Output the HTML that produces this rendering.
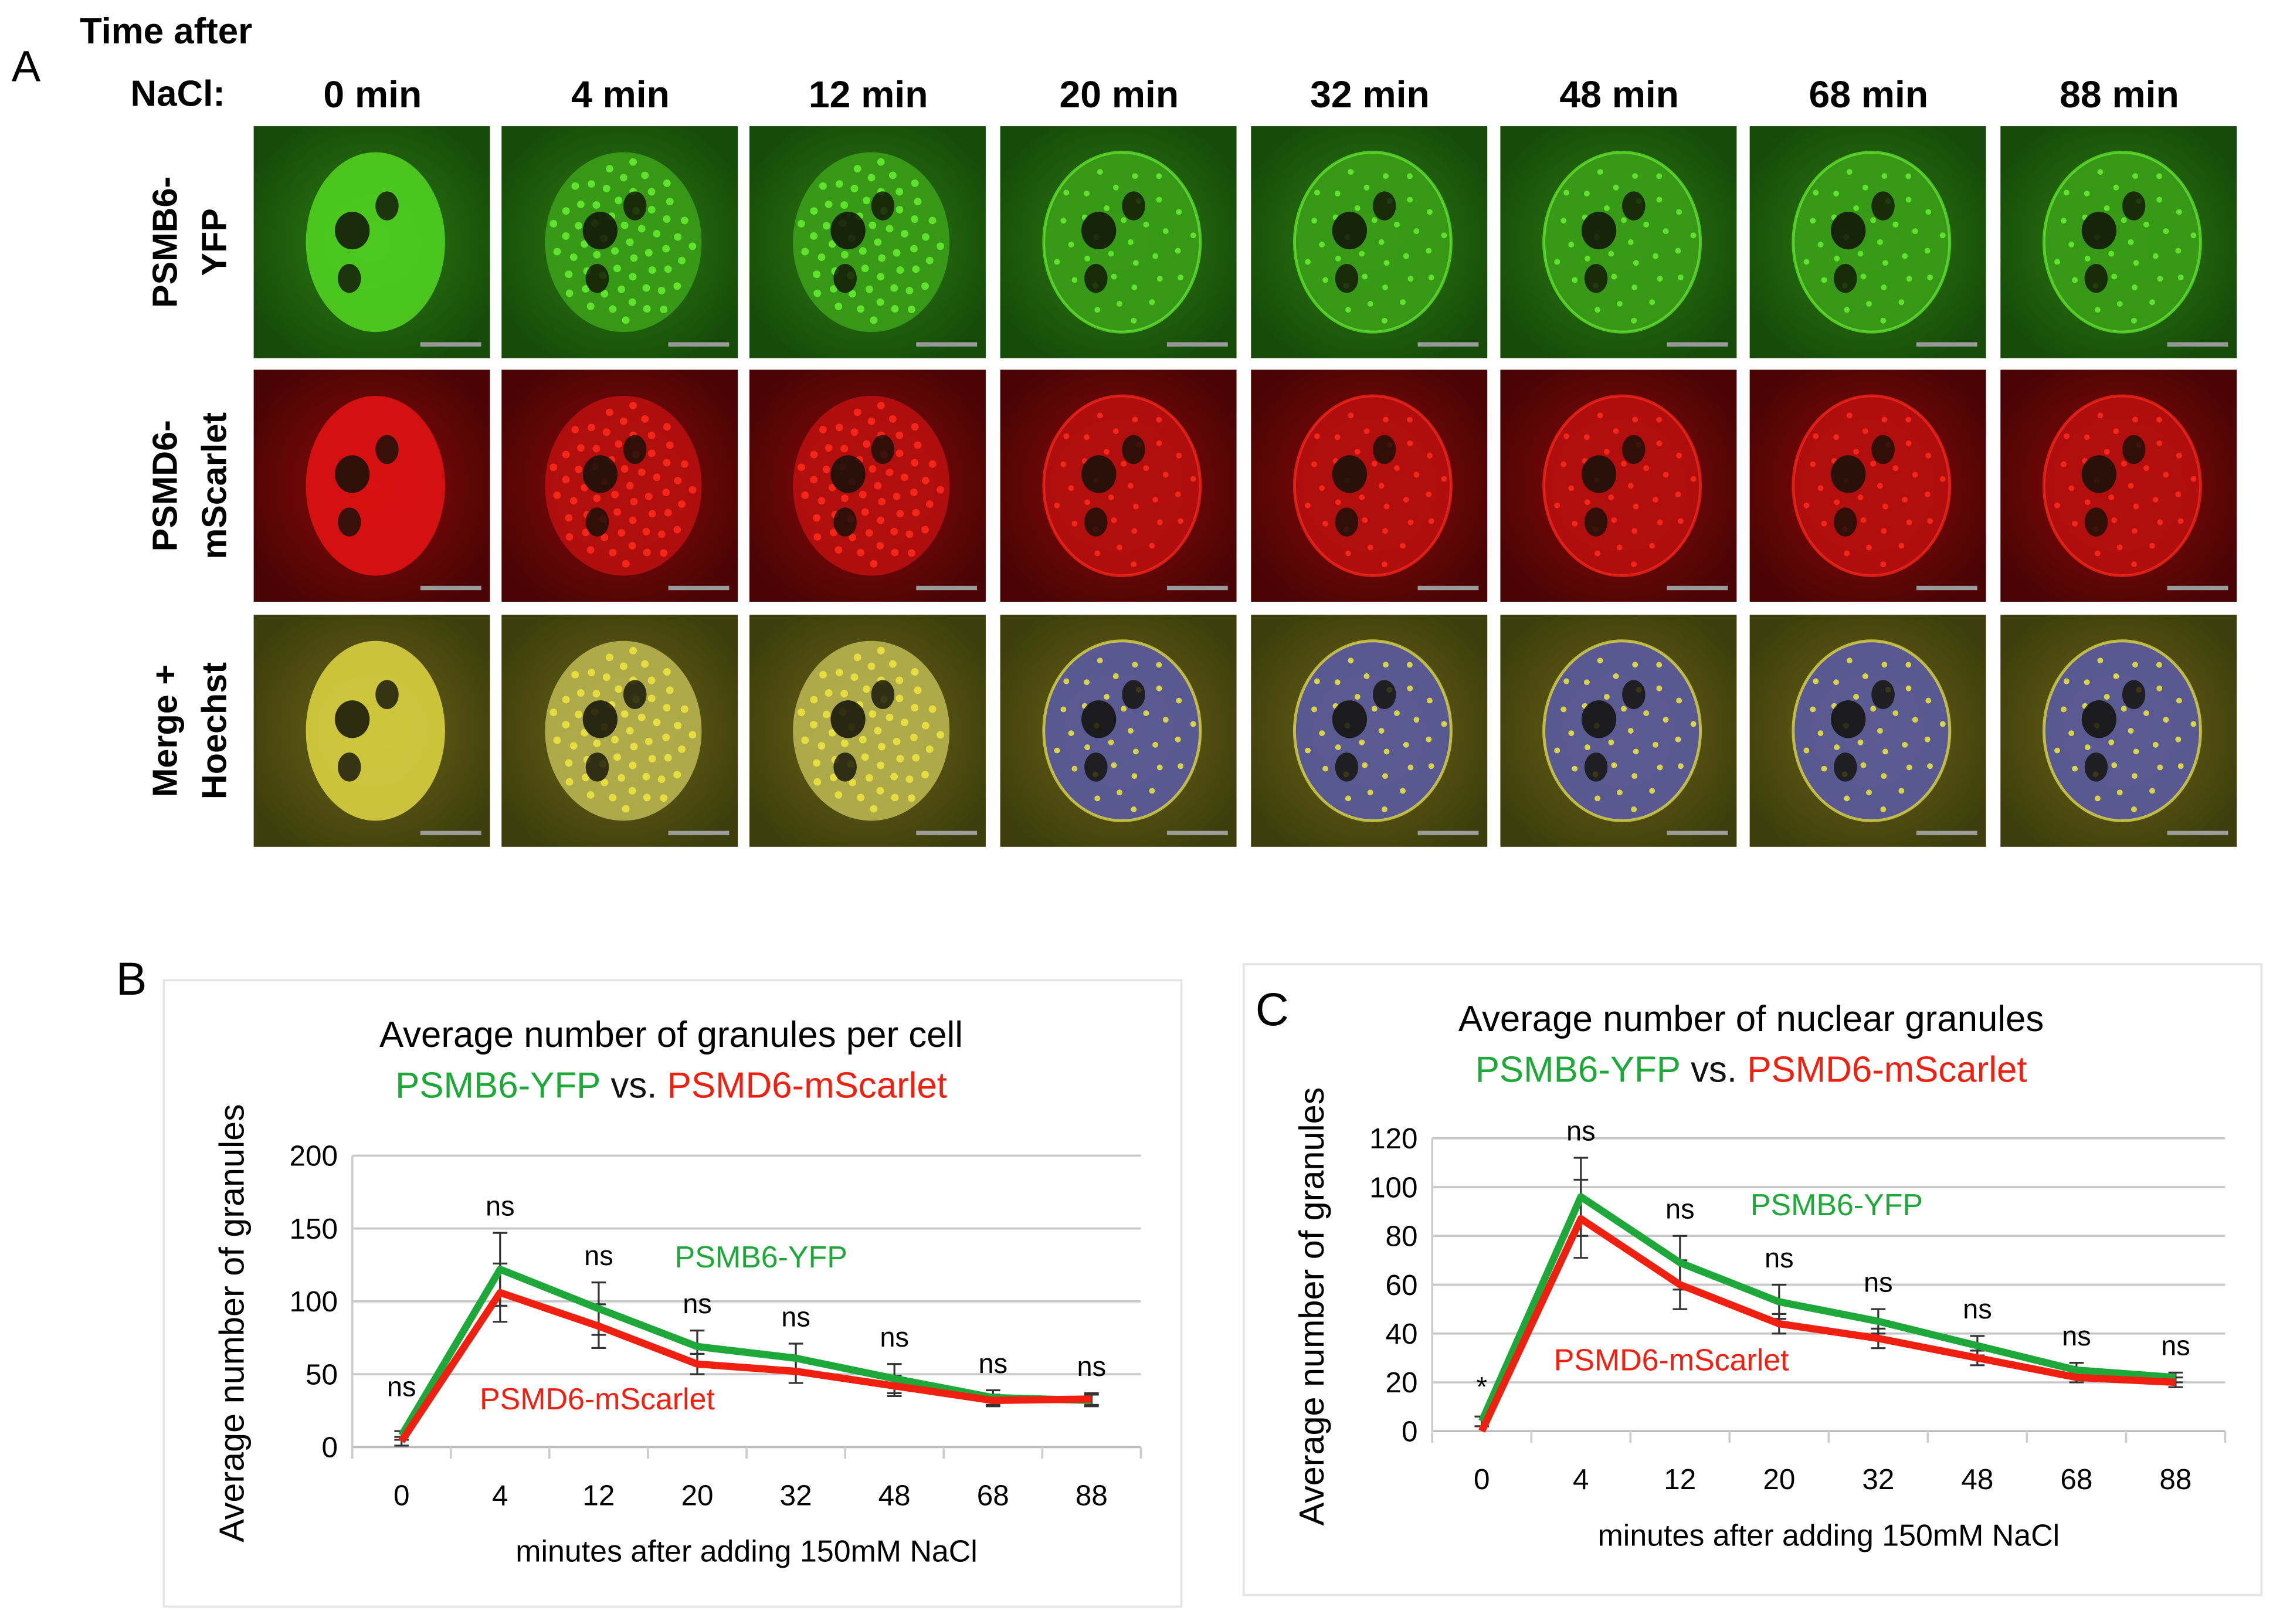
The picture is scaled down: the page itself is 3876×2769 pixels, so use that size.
<!DOCTYPE html>
<html><head><meta charset="utf-8"><style>
html,body{margin:0;padding:0;background:#fff}
svg{display:block}
text{font-family:"Liberation Sans",sans-serif}
</style></head><body>
<svg id="fig" width="3876" height="2769" viewBox="0 0 1568 1120" preserveAspectRatio="none" xmlns="http://www.w3.org/2000/svg">
<defs>
<radialGradient id="gG" cx="50%" cy="50%" r="60%"><stop offset="0" stop-color="#2c7e14"/><stop offset="1" stop-color="#164a08"/></radialGradient>
<radialGradient id="gR" cx="50%" cy="50%" r="60%"><stop offset="0" stop-color="#8c0a0a"/><stop offset="1" stop-color="#4a0404"/></radialGradient>
<radialGradient id="gM" cx="50%" cy="50%" r="60%"><stop offset="0" stop-color="#6a6418"/><stop offset="1" stop-color="#3e3e0c"/></radialGradient>
</defs>
<g id="panelA">
<text x="8" y="56" font-size="30">A</text>
<text x="55" y="30" font-size="25" font-weight="bold">Time after</text>
<text x="90" y="73" font-size="25" font-weight="bold">NaCl:</text>
</g>
<g id="chartB"></g>
<g id="chartC"></g>
</svg>
<script>
const NS="http://www.w3.org/2000/svg";
function mk(parent,tag,attrs,txt){const e=document.createElementNS(NS,tag);for(const k in attrs)e.setAttribute(k,attrs[k]);if(txt!==undefined)e.textContent=txt;parent.appendChild(e);return e;}

// ---------- Panel A ----------
const timeLabels=["0 min","4 min","12 min","20 min","32 min","48 min","68 min","88 min"];
const colX=[175,346,517,690,863,1035,1207,1380];
const rowY=[87,255,424];
const rowFill=["url(#gG)","url(#gR)","url(#gM)"];
const nucFill0=["#50d020","#e01212","#d8d040"];
const nucFill=["#3a9e18","#b81010","#b0a838"];
const speck=["#66f030","#ff2a1a","#f0e840"];
const pa=document.getElementById('panelA');
timeLabels.forEach((t,i)=>{
  const e=mk(pa,'text',{x:colX[i]+82,y:74,'font-size':26,'font-weight':'bold','text-anchor':'middle'},t);
  
  
});
const rowLabels=[["PSMB6-","YFP"],["PSMD6-","mScarlet"],["Merge +","Hoechst"]];
rowLabels.forEach((l,r)=>{
  const cy=rowY[r]+80;
  const g=mk(pa,'g',{transform:`translate(0,${cy}) rotate(-90)`});
  
  
  mk(g,'text',{x:0,y:122,'font-size':24,'font-weight':'bold','text-anchor':'middle'},l[0]);
  mk(g,'text',{x:0,y:156,'font-size':24,'font-weight':'bold','text-anchor':'middle'},l[1]);
});
for(let r=0;r<3;r++){for(let c=0;c<8;c++){
  const x=colX[c],y=rowY[r],w=163,h=160;
  const g=mk(pa,'g',{});
  
  
  mk(g,'rect',{x:x,y:y,width:w,height:h,fill:rowFill[r]});
  const cx=x+84,cy=y+80,rx=c===0?48:54,ry=c===0?62:62;
  let nf = c===0?nucFill0[r]:nucFill[r];
  if(r===2&&c>=3) nf="#5a5aa0";
  if(r===2&&c>=1&&c<3) nf="#b8b450";
  mk(g,'ellipse',{cx:cx,cy:cy,rx:rx,ry:ry,fill:nf,opacity:0.9});
  if(c>0){
    const n=c<3?60:35;
    for(let k=0;k<n;k++){
      const a=k*2.39996, rr=Math.sqrt((k+0.5)/n)*0.92;
      mk(g,'circle',{cx:cx+Math.cos(a)*rx*rr,cy:cy+Math.sin(a)*ry*rr,r:c<3?2.6:2,fill:speck[r],opacity:0.85});
    }
    if(c>=3) mk(g,'ellipse',{cx:cx,cy:cy,rx:rx,ry:ry,fill:'none',stroke:speck[r],'stroke-width':2,opacity:0.7});
  }
  mk(g,'ellipse',{cx:x+68,cy:y+72,rx:12,ry:13,fill:'#101008',opacity:0.85});
  mk(g,'ellipse',{cx:x+92,cy:y+55,rx:8,ry:10,fill:'#101008',opacity:0.8});
  mk(g,'ellipse',{cx:x+66,cy:y+105,rx:8,ry:10,fill:'#101008',opacity:0.8});
  mk(g,'rect',{x:x+115,y:y+149,width:42,height:3,fill:'#999'});
}}

// ---------- Charts ----------
const cats=["0","4","12","20","32","48","68","88"];
const bGreen=[8,122,95,69,61,47,34,32];
const bRed=[4,106,83,57,52,42,32,33];
const bGreenErr=[3,25,18,11,10,10,5,4];
const bRedErr=[3,20,15,7,8,7,4,4];
const bTicks=[0,50,100,150,200];
const bSig=["ns","ns","ns","ns","ns","ns","ns","ns"];
const cGreen=[4,96,69,53,45,35,25,22];
const cRed=[0,87,60,44,38,30,22,20];
const cGreenErr=[2,16,11,7,5,4,3,2];
const cRedErr=[0,16,10,4,4,3,2,2];
const cTicks=[0,20,40,60,80,100,120];
const cSig=["*","ns","ns","ns","ns","ns","ns","ns"];

function chart(id,o){
  const g=document.getElementById(id);
  mk(g,'rect',{x:o.fx,y:o.fy,width:o.fw,height:o.fh,fill:'#fff',stroke:'#e4e4e4','stroke-width':1.5});
  const L=mk(g,'text',{x:o.lx,y:o.ly,'font-size':32},o.letter);
  
  
  const t1=mk(g,'text',{x:o.tcx,y:o.t1y,'font-size':25,'text-anchor':'middle'},o.title);
  
  
  const t2=mk(g,'text',{x:o.tcx,y:o.t1y+35,'font-size':25,'text-anchor':'middle'});
  
  
  mk(t2,'tspan',{fill:'#1fa83a'},'PSMB6-YFP');
  mk(t2,'tspan',{fill:'#111'},' vs. ');
  mk(t2,'tspan',{fill:'#f02010'},'PSMD6-mScarlet');
  const ymax=o.ticks[o.ticks.length-1];
  const Y=v=>o.y0-(v/ymax)*(o.y0-o.ytop);
  const step=(o.xr-o.xl)/cats.length;
  const X=i=>o.xl+step*(i+0.5);
  o.ticks.forEach(t=>{
    const gl=mk(g,'line',{x1:o.xl,x2:o.xr,y1:Y(t),y2:Y(t),stroke:t===0?'#bbb':'#c8c8c8','stroke-width':1.5});
    
    
    const tl=mk(g,'text',{x:o.xl-10,y:Y(t)+7,'font-size':20,'text-anchor':'end'},String(t));
    
    
  });
  mk(g,'line',{x1:o.xl,x2:o.xl,y1:o.ytop,y2:o.y0+8,stroke:'#ccc','stroke-width':1.5});
  for(let i=0;i<=cats.length;i++) mk(g,'line',{x1:o.xl+step*i,x2:o.xl+step*i,y1:o.y0,y2:o.y0+8,stroke:'#ccc','stroke-width':1.5});
  cats.forEach((c,i)=>{
    const tl=mk(g,'text',{x:X(i),y:o.y0+40,'font-size':20,'text-anchor':'middle'},c);
    
    
  });
  const xt=mk(g,'text',{x:(o.xl+o.xr)/2,y:o.y0+79,'font-size':21,'text-anchor':'middle'},'minutes after adding 150mM NaCl');
  
  
  const yt=mk(g,'text',{x:0,y:0,'font-size':24,'text-anchor':'middle',transform:`translate(${o.ytx},${(o.ytop+o.y0)/2+15}) rotate(-90)`},'Average number of granules');
  
  
  [[o.green,o.gErr],[o.red,o.rErr]].forEach(([vals,errs])=>{
    vals.forEach((v,i)=>{
      if(!errs[i])return;
      const eb=mk(g,'path',{d:`M${X(i)} ${Y(v-errs[i])}V${Y(v+errs[i])}M${X(i)-5} ${Y(v-errs[i])}h10M${X(i)-5} ${Y(v+errs[i])}h10`,stroke:'#333','stroke-width':1.3,fill:'none'});
      
      
    });
  });
  const gl=mk(g,'polyline',{points:o.green.map((v,i)=>X(i)+','+Y(v)).join(' '),fill:'none',stroke:'#1fa83a','stroke-width':5,'stroke-linejoin':'round'});
  
  
  const rl=mk(g,'polyline',{points:o.red.map((v,i)=>X(i)+','+Y(v)).join(' '),fill:'none',stroke:'#f02010','stroke-width':5,'stroke-linejoin':'round'});
  
  
  o.sig.forEach((s,i)=>{
    const top=Math.max(o.green[i]+o.gErr[i],o.red[i]+o.rErr[i]);
    const st=mk(g,'text',{x:X(i),y:Y(top)-(s==='*'?14:(i===0?24:12)),'font-size':19,'text-anchor':'middle'},s);
    
    
  });
  const lg=mk(g,'text',{x:o.lgx,y:o.lgy,'font-size':21,fill:'#1fa83a','text-anchor':'middle'},'PSMB6-YFP');
  
  
  const lr=mk(g,'text',{x:o.lrx,y:o.lry,'font-size':21,fill:'#f02010','text-anchor':'middle'},'PSMD6-mScarlet');
  
  
}
chart('chartB',{fx:113,fy:676,fw:702,fh:432,letter:'B',lx:80,ly:686,tcx:463,t1y:722,title:'Average number of granules per cell',
  xl:243,xr:787,y0:998,ytop:797,ticks:bTicks,green:bGreen,red:bRed,gErr:bGreenErr,rErr:bRedErr,sig:bSig,ytx:168,
  lgx:525,lgy:874,lrx:412,lry:972});
chart('chartC',{fx:858,fy:665,fw:702,fh:435,letter:'C',lx:866,ly:707,tcx:1208,t1y:711,title:'Average number of nuclear granules',
  xl:988,xr:1535,y0:987,ytop:785,ticks:cTicks,green:cGreen,red:cRed,gErr:cGreenErr,rErr:cRedErr,sig:cSig,ytx:913,
  lgx:1267,lgy:838,lrx:1153,lry:945});
</script>
</body></html>
